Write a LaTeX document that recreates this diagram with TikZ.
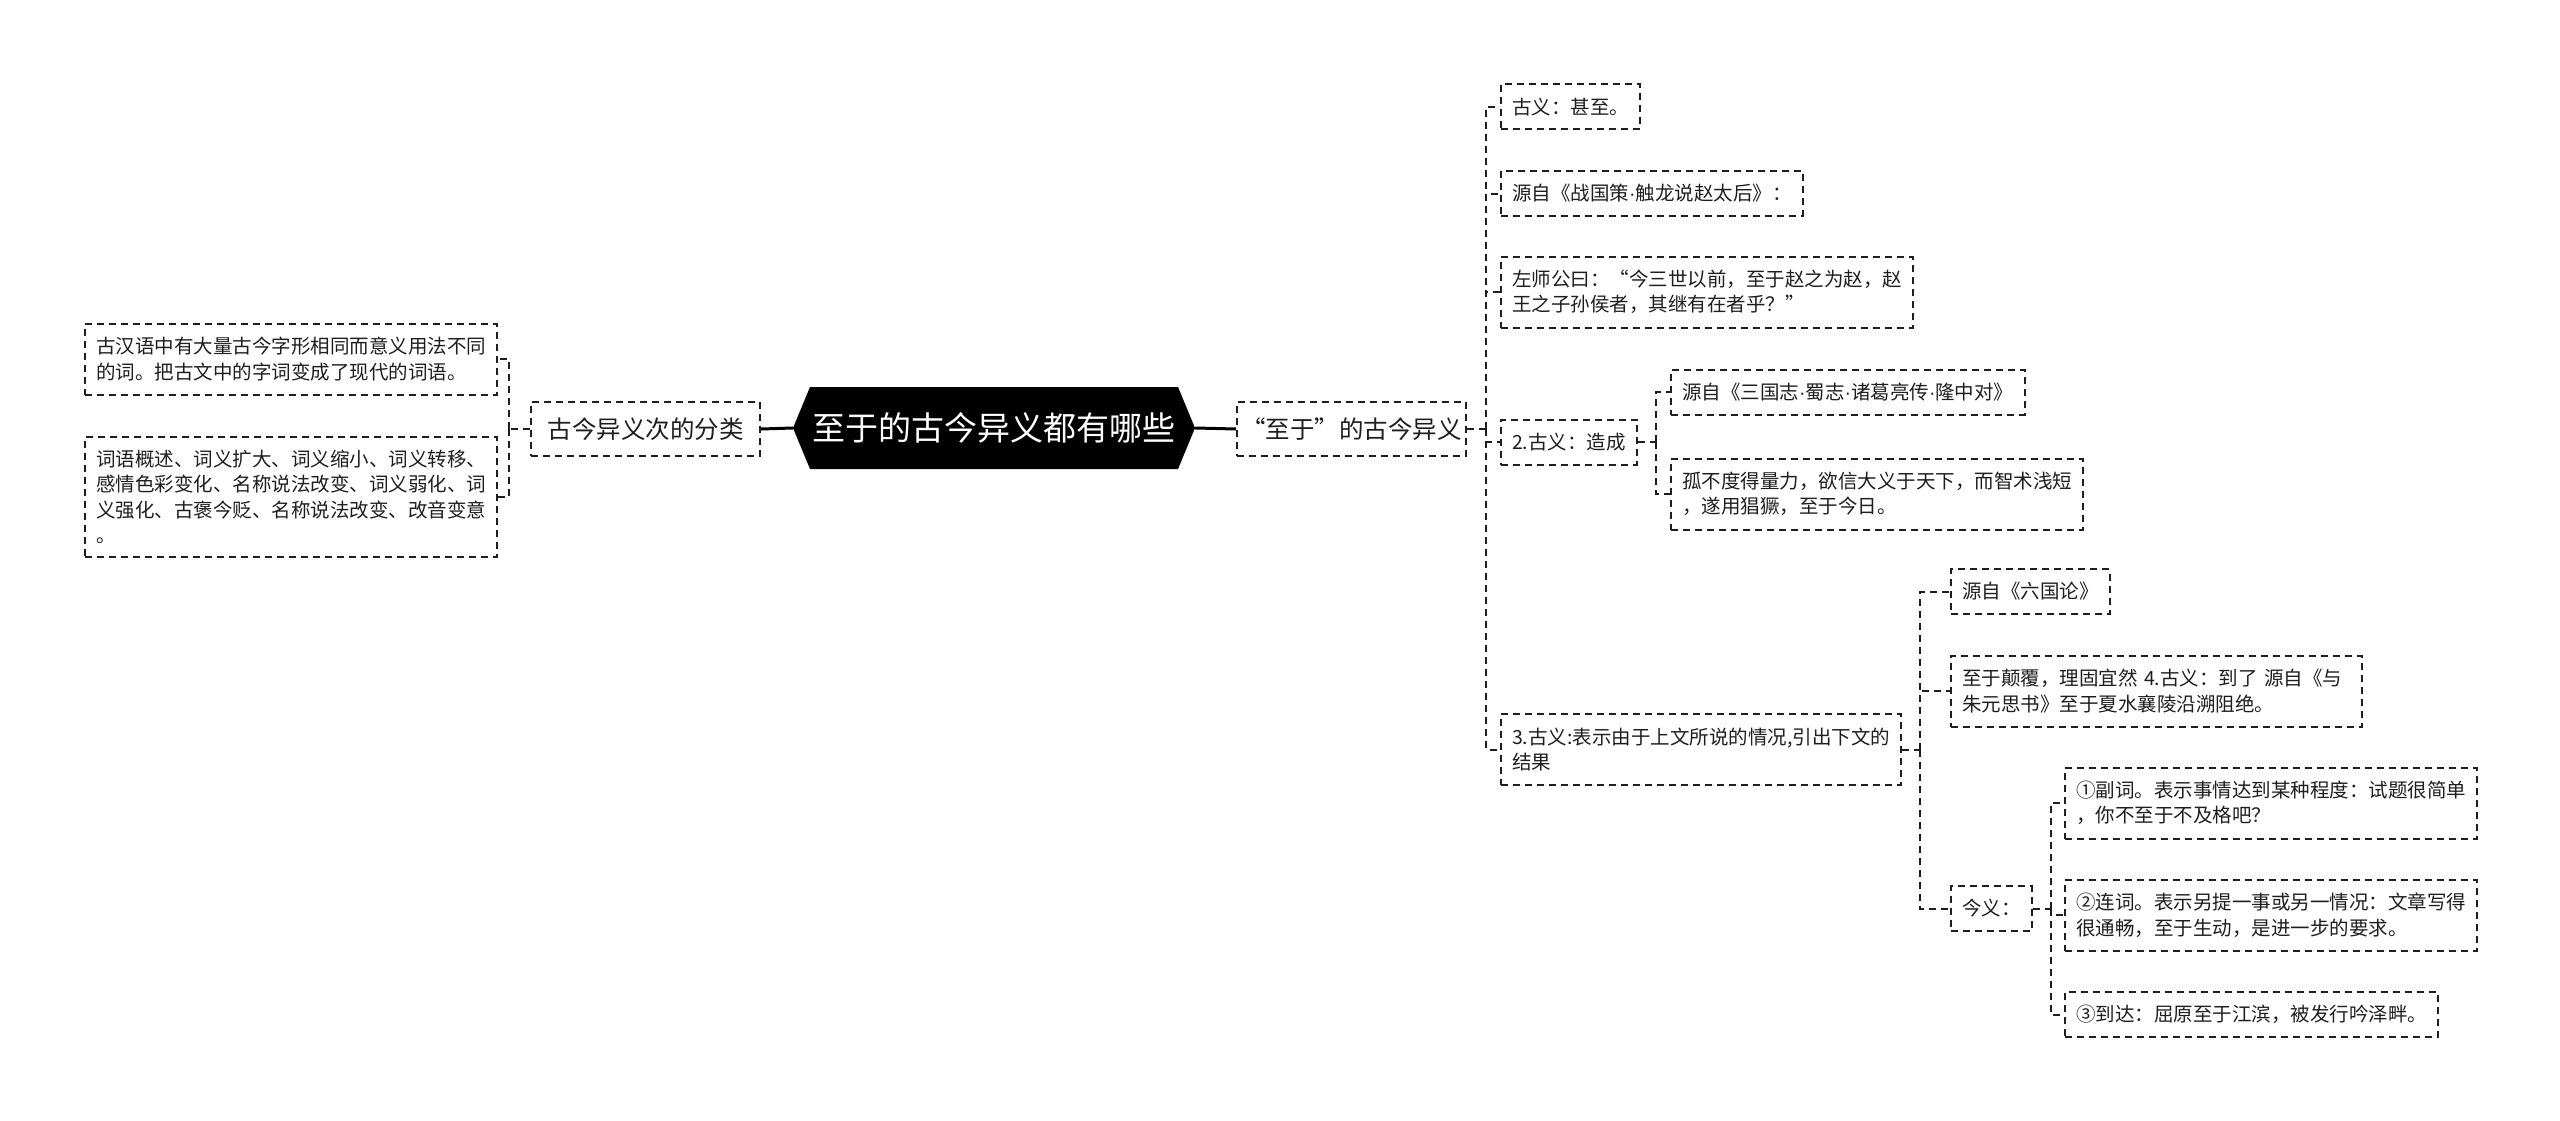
\documentclass[tikz,border=0pt]{standalone}
\usepackage{fontspec}
\setmainfont{Noto Sans CJK SC}
\newfontfamily\latinsans{Liberation Sans}
\newcommand\mdot{{\latinsans ·}}
\usepackage{tikz}
\usetikzlibrary{shapes.symbols}
\definecolor{ink}{HTML}{1E1E1E}
\tikzset{
    root-box/.style = {shape=signal, signal to=west and east, signal pointer angle=135, fill=black, text=white, inner sep=0pt, minimum width=402pt, minimum height=82pt, font=\fontsize{33}{33}\selectfont},
    topic-box/.style = {draw=ink, fill=white, line width=2pt, dash pattern=on 7pt off 5pt, rectangle, inner xsep=0pt, inner ysep=0pt, minimum width=229pt, minimum height=54pt, text=ink, font=\fontsize{24.5}{30}\selectfont},
    leaf-box/.style = {draw=ink, fill=white, line width=2pt, dash pattern=on 7pt off 5pt, rectangle, align=left, inner xsep=11pt, inner ysep=0pt, minimum height=45pt, text=ink, font=\fontsize{19.5}{25.5}\selectfont},
    two-lines/.style = {minimum height=71pt},
    four-lines/.style = {minimum height=120pt},
    link-line/.style = {draw=ink, line width=2pt, dash pattern=on 7pt off 5pt},
    root-line/.style = {draw=black, line width=3pt},
}

\begin{document}
\begin{tikzpicture}[x=1pt,y=-1pt]
\useasboundingbox (0,0) rectangle (2560,1121);
% centre and the two topics
\node[root-box] (root) at (994,428) {至于的古今异义都有哪些};
\node[topic-box, anchor=east] (kinds) at (761,429) {古今异义次的分类};
\node[topic-box, anchor=west] (zhiyu) at (1236,429) {“至于”的古今异义};
\draw[root-line] (root.west) -- (kinds.east);
\draw[root-line] (root.east) -- (zhiyu.west);

% left side
\coordinate (kinds-j) at ([xshift=-21pt]kinds.west);
\draw[link-line] (kinds.west) -- (kinds-j);
\node[leaf-box, two-lines, anchor=west] (kinds-1) at (84,359) {古汉语中有大量古今字形相同而意义用法不同\\的词。把古文中的字词变成了现代的词语。};
\node[leaf-box, four-lines, anchor=west] (kinds-2) at (84,497) {词语概述、词义扩大、词义缩小、词义转移、\\感情色彩变化、名称说法改变、词义弱化、词\\义强化、古褒今贬、名称说法改变、改音变意\\。};
\foreach \c in {kinds-1,kinds-2}
    \draw[link-line] (kinds-j) |- (\c.east);

% right side
\coordinate (zhiyu-j) at ([xshift=19pt]zhiyu.east);
\draw[link-line] (zhiyu.east) -- (zhiyu-j);
\node[leaf-box, anchor=west] (gy-1) at (1500,107) {古义：甚至。};
\node[leaf-box, anchor=west] (gy-2) at (1500,193.5) {源自《战国策\mdot 触龙说赵太后》：};
\node[leaf-box, two-lines, anchor=west] (gy-3) at (1500,292) {左师公曰：“今三世以前，至于赵之为赵，赵\\王之子孙侯者，其继有在者乎？”};
\node[leaf-box, anchor=west] (gy-4) at (1500,442) {2.古义：造成};
\node[leaf-box, two-lines, anchor=west] (gy-5) at (1500,749.5) {3.古义:表示由于上文所说的情况,引出下文的\\结果};
\foreach \c in {gy-1,gy-2,gy-3,gy-4,gy-5}
    \draw[link-line] (zhiyu-j) |- (\c.west);

% 2. 造成
\coordinate (gy-4-j) at ([xshift=18pt]gy-4.east);
\draw[link-line] (gy-4.east) -- (gy-4-j);
\node[leaf-box, anchor=west] (zc-1) at (1670,392) {源自《三国志\mdot 蜀志\mdot 诸葛亮传\mdot 隆中对》};
\node[leaf-box, two-lines, anchor=west] (zc-2) at (1670,494) {孤不度得量力，欲信大义于天下，而智术浅短\\，遂用猖獗，至于今日。};
\foreach \c in {zc-1,zc-2}
    \draw[link-line] (gy-4-j) |- (\c.west);

% 3. 由于上文
\coordinate (gy-5-j) at ([xshift=18pt]gy-5.east);
\draw[link-line] (gy-5.east) -- (gy-5-j);
\node[leaf-box, anchor=west] (yw-1) at (1950,591.5) {源自《六国论》};
\node[leaf-box, two-lines, anchor=west, text width=389pt] (yw-2) at (1950,691) {至于颠覆，理固宜然 4.古义：到了 源自《与\\朱元思书》至于夏水襄陵沿溯阻绝。};
\node[leaf-box, anchor=west] (jinyi) at (1950,908.5) {今义：};
\foreach \c in {yw-1,yw-2,jinyi}
    \draw[link-line] (gy-5-j) |- (\c.west);

% 今义
\coordinate (jinyi-j) at ([xshift=18pt]jinyi.east);
\draw[link-line] (jinyi.east) -- (jinyi-j);
\node[leaf-box, two-lines, anchor=west] (jy-1) at (2064,803) {①副词。表示事情达到某种程度：试题很简单\\，你不至于不及格吧？};
\node[leaf-box, two-lines, anchor=west] (jy-2) at (2064,915) {②连词。表示另提一事或另一情况：文章写得\\很通畅，至于生动，是进一步的要求。};
\node[leaf-box, anchor=west] (jy-3) at (2064,1014.5) {③到达：屈原至于江滨，被发行吟泽畔。};
\foreach \c in {jy-1,jy-2,jy-3}
    \draw[link-line] (jinyi-j) |- (\c.west);
\end{tikzpicture}
\end{document}
